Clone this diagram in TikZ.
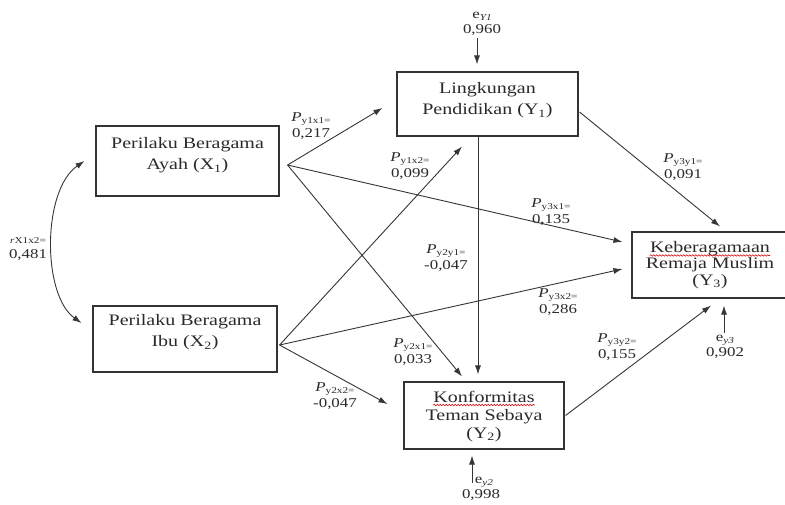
\documentclass[tikz,border=0pt]{standalone}
\usepackage{fontspec}
\setmainfont{Liberation Serif}[FakeStretch=1.25]
\usetikzlibrary{arrows.meta,decorations.pathmorphing}

\definecolor{txt}{HTML}{2A2A2A}
\definecolor{ink}{HTML}{363636}
\definecolor{frame}{HTML}{333333}

\newcommand{\coefP}[2]{{\itshape P}\raisebox{-0.35ex}{\fontsize{9}{9}\selectfont #1=}\\#2}

\begin{document}
\begin{tikzpicture}[x=1pt,y=-1pt,
  box/.style={draw=frame, line width=1.1pt, fill=white, inner sep=0pt},
  boxtext/.style={align=center, text=txt, inner sep=0pt},
  boxline/.style={anchor=base, text=txt, inner sep=0pt, font=\fontsize{16}{18}\selectfont},
  coef/.style={font=\fontsize{13.5}{15.5}\selectfont, align=center, text=txt, inner sep=0pt},
  link/.style={draw=ink, line width=0.9pt, -{Latex[length=9pt,width=6pt]}},
  spell/.style={draw=red!85!black, line width=0.6pt,
    decorate, decoration={snake, amplitude=0.7pt, segment length=3pt}}
]
\useasboundingbox[fill=white] (0,0) rectangle (785,504);

% boxes of the path model
\node[box, minimum width=183pt, minimum height=70pt] (X1) at (187.5,161) {};
\node[box, minimum width=184pt, minimum height=66pt] (X2) at (185,339) {};
\node[box, minimum width=181pt, minimum height=64pt] (Y1) at (487.5,104) {};
\node[box, minimum width=160pt, minimum height=67pt] (Y2) at (484,415.5) {};
\node[box, minimum width=158pt, minimum height=66pt] (Y3) at (711,265) {};

% box captions
\node[boxtext, font=\fontsize{16}{21.5}\selectfont] (X1t) at (187.5,155)
  {Perilaku Beragama\\Ayah (X\textsubscript{1})};
\node[boxtext, font=\fontsize{16}{21.5}\selectfont] (X2t) at (185,332)
  {Perilaku Beragama\\Ibu (X\textsubscript{2})};
\node[boxtext, font=\fontsize{16}{21}\selectfont] (Y1t) at (487.5,100.5)
  {Lingkungan\\Pendidikan (Y\textsubscript{1})};

\node[boxline] (Y2a) at (484,402) {Konformitas};
\node[boxline] (Y2b) at (484,420.5) {Teman Sebaya};
\node[boxline] (Y2c) at (484,438) {(Y\textsubscript{2})};

\node[boxline] (Y3a) at (710,252) {Keberagamaan};
\node[boxline] (Y3b) at (710,268) {Remaja Muslim};
\node[boxline] (Y3c) at (710,285) {(Y\textsubscript{3})};

% spell-check underlines
\draw[spell] ([yshift=-3pt]Y2a.base west) -- ([yshift=-3pt]Y2a.base east);
\draw[spell] ([yshift=-3.5pt]Y3a.base west) -- ([yshift=-3.5pt]Y3a.base east);

% arrow start and end points around the boxes
\coordinate (x1o) at ([xshift=8pt,yshift=-4pt]X1.east);
\coordinate (x2o) at ([xshift=2pt,yshift=-6pt]X2.east);
\coordinate (y1a) at ([xshift=-14pt,yshift=-4pt]Y1.west);
\coordinate (y1b) at ([xshift=-25.5pt,yshift=-10pt]Y1.south);
\coordinate (y1d) at ([xshift=-9.5pt]Y1.south);
\coordinate (y1r) at ([xshift=1pt,yshift=-8pt]Y1.east);
\coordinate (y2in1) at ([xshift=-22pt,yshift=5pt]Y2.north);
\coordinate (y2in2) at ([xshift=-6pt,yshift=7pt]Y2.north);
\coordinate (y2in3) at ([xshift=-16pt,yshift=11.5pt]Y2.west);
\coordinate (y2r) at ([xshift=1pt]Y2.east);
\coordinate (y3in1) at ([xshift=-9pt,yshift=23pt]Y3.west);
\coordinate (y3in2) at ([xshift=-9pt,yshift=-4pt]Y3.west);
\coordinate (y3t) at ([xshift=9pt,yshift=5pt]Y3.north);
\coordinate (y3s) at ([xshift=0pt,yshift=-7pt]Y3.south);

% direct paths
\draw[link] (x1o) -- (y1a);
\draw[link] (x1o) -- (y3in1);
\draw[link] (x1o) -- (y2in1);
\draw[link] (x2o) -- (y1b);
\draw[link] (x2o) -- (y3in2);
\draw[link] (x2o) -- (y2in3);
\draw[link] (y1d) -- (y2in2);
\draw[link] (y1r) -- (y3t);
\draw[link] (y2r) -- (y3s);

% correlation between the two exogenous variables
\coordinate (c1) at ([xshift=-11pt]X1.west);
\coordinate (c2) at ([xshift=-11pt,yshift=16pt]X2.west);
\draw[draw=ink, line width=0.9pt, {Latex[length=9pt,width=6pt]}-{Latex[length=9pt,width=6pt]}]
  (c1) .. controls (42,190) and (42,295) .. (c2);
\node[coef] (r12) at (28,249)
  {{\fontsize{9}{9}\selectfont\itshape r}{\fontsize{9}{9}\selectfont X1x2=}\\0,481};

% path coefficients
\node[coef] (p1) at (311,126) {\coefP{y1x1}{0,217}};
\node[coef] (p2) at (410,166) {\coefP{y1x2}{0,099}};
\node[coef] (p3) at (551,212) {\coefP{y3x1}{0,135}};
\node[coef] (p4) at (446,258) {\coefP{y2y1}{-0,047}};
\node[coef] (p5) at (558,302) {\coefP{y3x2}{0,286}};
\node[coef] (p6) at (413,352) {\coefP{y2x1}{0,033}};
\node[coef] (p7) at (335,396) {\coefP{y2x2}{-0,047}};
\node[coef] (p8) at (617,347) {\coefP{y3y2}{0,155}};
\node[coef] (p9) at (683,167) {\coefP{y3y1}{0,091}};

% residual terms
\node[coef] (e1) at (482,24) {e\raisebox{-0.3ex}{\fontsize{9}{9}\selectfont\itshape Y1}\\0,960};
\coordinate (e1s) at ([xshift=-10.5pt,yshift=33pt]Y1.north);
\coordinate (e1e) at ([xshift=-10.5pt,yshift=7pt]Y1.north);
\draw[link] (e1s) -- (e1e);

\node[coef] (e2) at (481,489) {\hspace*{6pt}e\raisebox{-0.3ex}{\fontsize{9}{9}\selectfont\itshape y2}\\0,998};
\coordinate (e2s) at ([xshift=-12pt,yshift=-33pt]Y2.south);
\coordinate (e2e) at ([xshift=-12pt,yshift=-6pt]Y2.south);
\draw[link] (e2s) -- (e2e);

\node[coef] (e3) at (725,347) {e\raisebox{-0.3ex}{\fontsize{9}{9}\selectfont\itshape y3}\\0,902};
\coordinate (e3s) at ([xshift=13pt,yshift=-34pt]Y3.south);
\coordinate (e3e) at ([xshift=13pt,yshift=-7pt]Y3.south);
\draw[link] (e3s) -- (e3e);
\end{tikzpicture}
\end{document}
